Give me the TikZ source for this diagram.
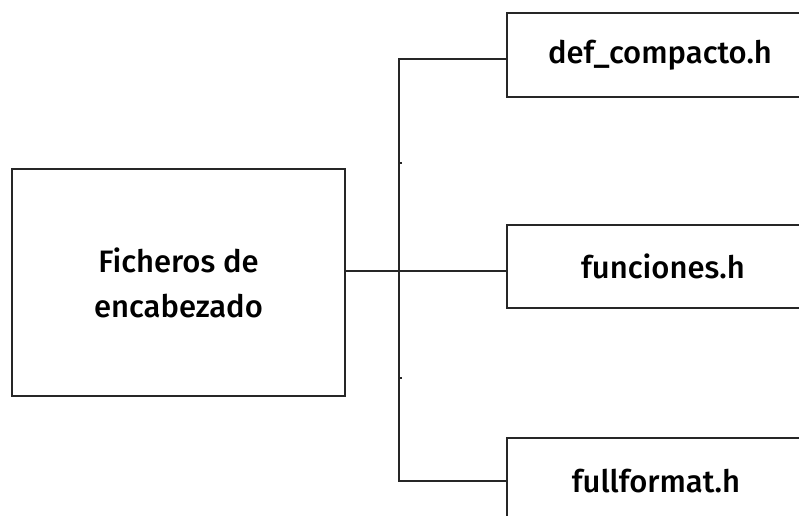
\documentclass[tikz,border=0pt]{standalone}
\usepackage{fontspec}
\setmainfont{Fira Sans Medium}
\begin{document}
\begin{tikzpicture}[x=1pt,y=-1pt,
  box/.style={draw=black!85,line width=1.6pt,rectangle,inner sep=0pt,align=center,
    font=\fontsize{31}{45}\selectfont},
  conn/.style={draw=black!85,line width=1.6pt}]
\useasboundingbox (0,0) rectangle (799,515);
\fill[white] (0,0) rectangle (799,515);
\begin{scope}
\clip (0,0) rectangle (799,515);
\node[box,minimum width=333,minimum height=227] (L) at (178.5,282.5) {Ficheros de\\encabezado};
\node[box,minimum width=306,minimum height=84] (A) at (660,55) {def\_compacto.h};
\node[box,minimum width=312,minimum height=83] (B) at (663,266.5) {funciones.h};
\node[box,minimum width=298,minimum height=86] (C) at (656,481) {fullformat.h};
\coordinate (top) at (399,59);
\coordinate (mid) at (399,271);
\coordinate (bot) at (399,481);
\coordinate (t1) at (399,163);
\coordinate (t2) at (399,378);
\draw[conn] (top -| A.west) -- (top) -- (bot) -- (bot -| C.west);
\draw[conn] (mid -| L.east) -- (mid -| B.west);
\draw[conn,line width=1.2pt] (t1) -- ++(3,0);
\draw[conn,line width=1.2pt] (t2) -- ++(3,0);
\end{scope}
\end{tikzpicture}
\end{document}
